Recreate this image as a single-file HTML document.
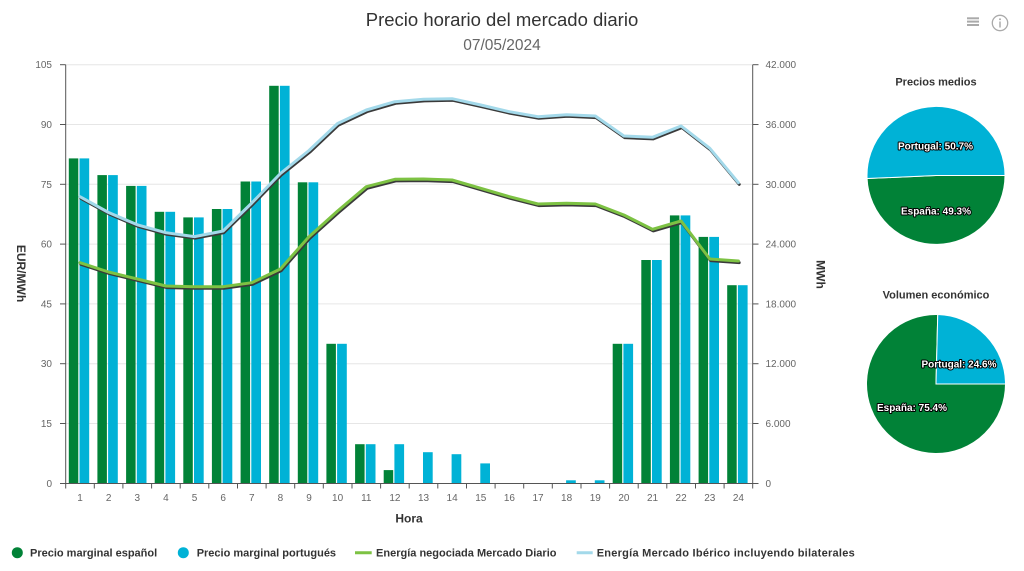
<!DOCTYPE html>
<html><head><meta charset="utf-8">
<style>
html,body{margin:0;padding:0;background:#fff;}
svg{display:block;font-family:"Liberation Sans",Arial,sans-serif;}
.tl{font-size:10px;fill:#666;}
.pl{font-size:10px;font-weight:bold;fill:#fff;stroke:#000;stroke-width:2px;paint-order:stroke;stroke-linejoin:round;}
.lg{font-size:11px;font-weight:bold;fill:#333;}
</style></head>
<body>
<svg width="1024" height="571" viewBox="0 0 1024 571" xmlns="http://www.w3.org/2000/svg">
<rect width="1024" height="571" fill="#fff"/>
<text x="502" y="26" text-anchor="middle" font-size="18.5" fill="#333">Precio horario del mercado diario</text>
<text x="502" y="50" text-anchor="middle" font-size="15.5" fill="#666">07/05/2024</text>
<g stroke="#aaa" stroke-width="2">
<line x1="967" y1="18.3" x2="979" y2="18.3"/><line x1="967" y1="21.6" x2="979" y2="21.6"/><line x1="967" y1="25" x2="979" y2="25"/>
</g>
<circle cx="1000" cy="23" r="7.7" fill="none" stroke="#aaa" stroke-width="1.3"/>
<circle cx="1000" cy="19.2" r="1" fill="#aaa"/>
<line x1="1000" y1="21.5" x2="1000" y2="27.5" stroke="#aaa" stroke-width="1.5"/>

<g stroke="#e6e6e6" stroke-width="1">
<line x1="65.7" y1="64.7" x2="752.7" y2="64.7"/>
<line x1="65.7" y1="124.5" x2="752.7" y2="124.5"/>
<line x1="65.7" y1="184.3" x2="752.7" y2="184.3"/>
<line x1="65.7" y1="244.1" x2="752.7" y2="244.1"/>
<line x1="65.7" y1="303.9" x2="752.7" y2="303.9"/>
<line x1="65.7" y1="363.7" x2="752.7" y2="363.7"/>
<line x1="65.7" y1="423.5" x2="752.7" y2="423.5"/>
</g>

<g fill="#018237">
<rect x="68.8" y="158.4" width="9.5" height="324.9"/>
<rect x="97.4" y="175.1" width="9.5" height="308.2"/>
<rect x="126.1" y="185.9" width="9.5" height="297.4"/>
<rect x="154.7" y="211.8" width="9.5" height="271.5"/>
<rect x="183.3" y="217.4" width="9.5" height="265.9"/>
<rect x="211.9" y="209.0" width="9.5" height="274.3"/>
<rect x="240.6" y="181.5" width="9.5" height="301.8"/>
<rect x="269.2" y="85.8" width="9.5" height="397.5"/>
<rect x="297.8" y="182.3" width="9.5" height="301.0"/>
<rect x="326.4" y="343.8" width="9.5" height="139.5"/>
<rect x="355.1" y="444.2" width="9.5" height="39.1"/>
<rect x="383.7" y="470.1" width="9.5" height="13.2"/>
<rect x="612.7" y="343.8" width="9.5" height="139.5"/>
<rect x="641.3" y="260.0" width="9.5" height="223.3"/>
<rect x="669.9" y="215.4" width="9.5" height="267.9"/>
<rect x="698.6" y="236.9" width="9.5" height="246.4"/>
<rect x="727.2" y="285.2" width="9.5" height="198.1"/>
</g>
<g fill="#00b2d6">
<rect x="79.5" y="158.4" width="9.7" height="324.9"/>
<rect x="108.1" y="175.1" width="9.7" height="308.2"/>
<rect x="136.8" y="185.9" width="9.7" height="297.4"/>
<rect x="165.4" y="211.8" width="9.7" height="271.5"/>
<rect x="194.0" y="217.4" width="9.7" height="265.9"/>
<rect x="222.6" y="209.0" width="9.7" height="274.3"/>
<rect x="251.3" y="181.5" width="9.7" height="301.8"/>
<rect x="279.9" y="85.8" width="9.7" height="397.5"/>
<rect x="308.5" y="182.3" width="9.7" height="301.0"/>
<rect x="337.1" y="343.8" width="9.7" height="139.5"/>
<rect x="365.8" y="444.2" width="9.7" height="39.1"/>
<rect x="394.4" y="444.2" width="9.7" height="39.1"/>
<rect x="423.0" y="452.2" width="9.7" height="31.1"/>
<rect x="451.6" y="454.2" width="9.7" height="29.1"/>
<rect x="480.3" y="463.4" width="9.7" height="19.9"/>
<rect x="566.1" y="480.3" width="9.7" height="3.0"/>
<rect x="594.8" y="480.3" width="9.7" height="3.0"/>
<rect x="623.4" y="343.8" width="9.7" height="139.5"/>
<rect x="652.0" y="260.0" width="9.7" height="223.3"/>
<rect x="680.6" y="215.4" width="9.7" height="267.9"/>
<rect x="709.3" y="236.9" width="9.7" height="246.4"/>
<rect x="737.9" y="285.2" width="9.7" height="198.1"/>
</g>

<g fill="none" stroke-linejoin="round" stroke-linecap="round">
<polyline transform="translate(0.8,1.6)" stroke="#3a3a3a" stroke-width="3" points="80.0,196.7 108.6,212.5 137.3,224.8 165.9,232.7 194.5,236.6 223.1,231 251.8,203 280.4,173.5 309.0,150.5 337.6,123.5 366.3,110 394.9,101.7 423.5,99.3 452.1,98.7 480.8,105 509.4,111.7 538.0,116.7 566.6,114.7 595.3,116 623.9,136 652.5,137.3 681.1,126 709.8,148.3 738.4,182.7"/>
<polyline stroke="#a3d9ea" stroke-width="3" points="80.0,196.7 108.6,212.5 137.3,224.8 165.9,232.7 194.5,236.6 223.1,231 251.8,203 280.4,173.5 309.0,150.5 337.6,123.5 366.3,110 394.9,101.7 423.5,99.3 452.1,98.7 480.8,105 509.4,111.7 538.0,116.7 566.6,114.7 595.3,116 623.9,136 652.5,137.3 681.1,126 709.8,148.3 738.4,182.7"/>
<polyline transform="translate(0.8,1.6)" stroke="#3a3a3a" stroke-width="3" points="80.0,262.7 108.6,272 137.3,279 165.9,286 194.5,286.7 223.1,286.7 251.8,282.7 280.4,269 309.0,236.7 337.6,211 366.3,186.7 394.9,179.3 423.5,179 452.1,180 480.8,188.3 509.4,196.7 538.0,204 566.6,203.3 595.3,204 623.9,215 652.5,229.3 681.1,221 709.8,259 738.4,261"/>
<polyline stroke="#7dc243" stroke-width="3" points="80.0,262.7 108.6,272 137.3,279 165.9,286 194.5,286.7 223.1,286.7 251.8,282.7 280.4,269 309.0,236.7 337.6,211 366.3,186.7 394.9,179.3 423.5,179 452.1,180 480.8,188.3 509.4,196.7 538.0,204 566.6,203.3 595.3,204 623.9,215 652.5,229.3 681.1,221 709.8,259 738.4,261"/>
</g>

<g stroke="#555" stroke-width="1">
<line x1="65.7" y1="64.7" x2="65.7" y2="483.5"/>
<line x1="752.7" y1="64.7" x2="752.7" y2="483.5"/>
<line x1="65.2" y1="483.5" x2="753.2" y2="483.5"/>
<line x1="60" y1="64.7" x2="65.7" y2="64.7"/>
<line x1="60" y1="124.5" x2="65.7" y2="124.5"/>
<line x1="60" y1="184.3" x2="65.7" y2="184.3"/>
<line x1="60" y1="244.1" x2="65.7" y2="244.1"/>
<line x1="60" y1="303.9" x2="65.7" y2="303.9"/>
<line x1="60" y1="363.7" x2="65.7" y2="363.7"/>
<line x1="60" y1="423.5" x2="65.7" y2="423.5"/>
<line x1="60" y1="483.5" x2="65.7" y2="483.5"/>
<line x1="752.7" y1="64.7" x2="758.5" y2="64.7"/>
<line x1="752.7" y1="124.5" x2="758.5" y2="124.5"/>
<line x1="752.7" y1="184.3" x2="758.5" y2="184.3"/>
<line x1="752.7" y1="244.1" x2="758.5" y2="244.1"/>
<line x1="752.7" y1="303.9" x2="758.5" y2="303.9"/>
<line x1="752.7" y1="363.7" x2="758.5" y2="363.7"/>
<line x1="752.7" y1="423.5" x2="758.5" y2="423.5"/>
<line x1="752.7" y1="483.5" x2="758.5" y2="483.5"/>
<line x1="65.7" y1="483.5" x2="65.7" y2="488.5"/>
<line x1="94.3" y1="483.5" x2="94.3" y2="488.5"/>
<line x1="122.9" y1="483.5" x2="122.9" y2="488.5"/>
<line x1="151.6" y1="483.5" x2="151.6" y2="488.5"/>
<line x1="180.2" y1="483.5" x2="180.2" y2="488.5"/>
<line x1="208.8" y1="483.5" x2="208.8" y2="488.5"/>
<line x1="237.5" y1="483.5" x2="237.5" y2="488.5"/>
<line x1="266.1" y1="483.5" x2="266.1" y2="488.5"/>
<line x1="294.7" y1="483.5" x2="294.7" y2="488.5"/>
<line x1="323.3" y1="483.5" x2="323.3" y2="488.5"/>
<line x1="352.0" y1="483.5" x2="352.0" y2="488.5"/>
<line x1="380.6" y1="483.5" x2="380.6" y2="488.5"/>
<line x1="409.2" y1="483.5" x2="409.2" y2="488.5"/>
<line x1="437.8" y1="483.5" x2="437.8" y2="488.5"/>
<line x1="466.5" y1="483.5" x2="466.5" y2="488.5"/>
<line x1="495.1" y1="483.5" x2="495.1" y2="488.5"/>
<line x1="523.7" y1="483.5" x2="523.7" y2="488.5"/>
<line x1="552.3" y1="483.5" x2="552.3" y2="488.5"/>
<line x1="581.0" y1="483.5" x2="581.0" y2="488.5"/>
<line x1="609.6" y1="483.5" x2="609.6" y2="488.5"/>
<line x1="638.2" y1="483.5" x2="638.2" y2="488.5"/>
<line x1="666.8" y1="483.5" x2="666.8" y2="488.5"/>
<line x1="695.5" y1="483.5" x2="695.5" y2="488.5"/>
<line x1="724.1" y1="483.5" x2="724.1" y2="488.5"/>
<line x1="752.7" y1="483.5" x2="752.7" y2="488.5"/>
</g>

<g class="tl" text-anchor="end">
<text x="52" y="68.2">105</text>
<text x="52" y="128">90</text>
<text x="52" y="187.8">75</text>
<text x="52" y="247.6">60</text>
<text x="52" y="307.4">45</text>
<text x="52" y="367.2">30</text>
<text x="52" y="427">15</text>
<text x="52" y="486.8">0</text>
</g>
<g class="tl" text-anchor="start">
<text x="765.5" y="68.2">42.000</text>
<text x="765.5" y="128">36.000</text>
<text x="765.5" y="187.8">30.000</text>
<text x="765.5" y="247.6">24.000</text>
<text x="765.5" y="307.4">18.000</text>
<text x="765.5" y="367.2">12.000</text>
<text x="765.5" y="427">6.000</text>
<text x="765.5" y="486.8">0</text>
</g>
<g class="tl" text-anchor="middle">
<text x="80.0" y="501">1</text><text x="108.6" y="501">2</text><text x="137.3" y="501">3</text><text x="165.9" y="501">4</text>
<text x="194.5" y="501">5</text><text x="223.1" y="501">6</text><text x="251.8" y="501">7</text><text x="280.4" y="501">8</text>
<text x="309.0" y="501">9</text><text x="337.6" y="501">10</text><text x="366.3" y="501">11</text><text x="394.9" y="501">12</text>
<text x="423.5" y="501">13</text><text x="452.1" y="501">14</text><text x="480.8" y="501">15</text><text x="509.4" y="501">16</text>
<text x="538.0" y="501">17</text><text x="566.6" y="501">18</text><text x="595.3" y="501">19</text><text x="623.9" y="501">20</text>
<text x="652.5" y="501">21</text><text x="681.1" y="501">22</text><text x="709.8" y="501">23</text><text x="738.4" y="501">24</text>
</g>
<text x="409" y="522.5" text-anchor="middle" font-size="12" font-weight="bold" fill="#333">Hora</text>
<text transform="translate(17,273.5) rotate(90)" text-anchor="middle" font-size="12" font-weight="bold" fill="#333">EUR/MWh</text>
<text transform="translate(816.5,274.5) rotate(90)" text-anchor="middle" font-size="12" font-weight="bold" fill="#333">MWh</text>

<text x="936" y="85.5" text-anchor="middle" font-size="11" font-weight="bold" fill="#333">Precios medios</text>
<path d="M936,175.5 L1005,175.5 A69,69 0 0 1 867.07,178.53 Z" fill="#018237" stroke="#fff" stroke-width="1"/>
<path d="M936,175.5 L867.07,178.53 A69,69 0 1 1 1005,175.5 Z" fill="#00b2d6" stroke="#fff" stroke-width="1"/>
<text class="pl" x="935.5" y="149.5" text-anchor="middle">Portugal: 50.7%</text>
<text class="pl" x="936" y="214.5" text-anchor="middle">España: 49.3%</text>

<text x="936" y="298.5" text-anchor="middle" font-size="11" font-weight="bold" fill="#333">Volumen económico</text>
<path d="M936,384 L1005.5,384 A69.5,69.5 0 1 1 937.75,314.52 Z" fill="#018237" stroke="#fff" stroke-width="1"/>
<path d="M936,384 L937.75,314.52 A69.5,69.5 0 0 1 1005.5,384 Z" fill="#00b2d6" stroke="#fff" stroke-width="1"/>
<text class="pl" x="959" y="367.5" text-anchor="middle">Portugal: 24.6%</text>
<text class="pl" x="912" y="411" text-anchor="middle">España: 75.4%</text>

<circle cx="17.3" cy="552.7" r="5.5" fill="#018237"/>
<text class="lg" x="30" y="556.5">Precio marginal español</text>
<circle cx="183.3" cy="552.7" r="5.5" fill="#00b2d6"/>
<text class="lg" x="196.7" y="556.5">Precio marginal portugués</text>
<line x1="355" y1="552.7" x2="371.7" y2="552.7" stroke="#7dc243" stroke-width="3"/>
<text class="lg" x="376" y="556.5" textLength="180.5">Energía negociada Mercado Diario</text>
<line x1="576.7" y1="552.7" x2="592.7" y2="552.7" stroke="#a3d9ea" stroke-width="3"/>
<text class="lg" x="596.7" y="556.5" textLength="258">Energía Mercado Ibérico incluyendo bilaterales</text>
</svg>
</body></html>
